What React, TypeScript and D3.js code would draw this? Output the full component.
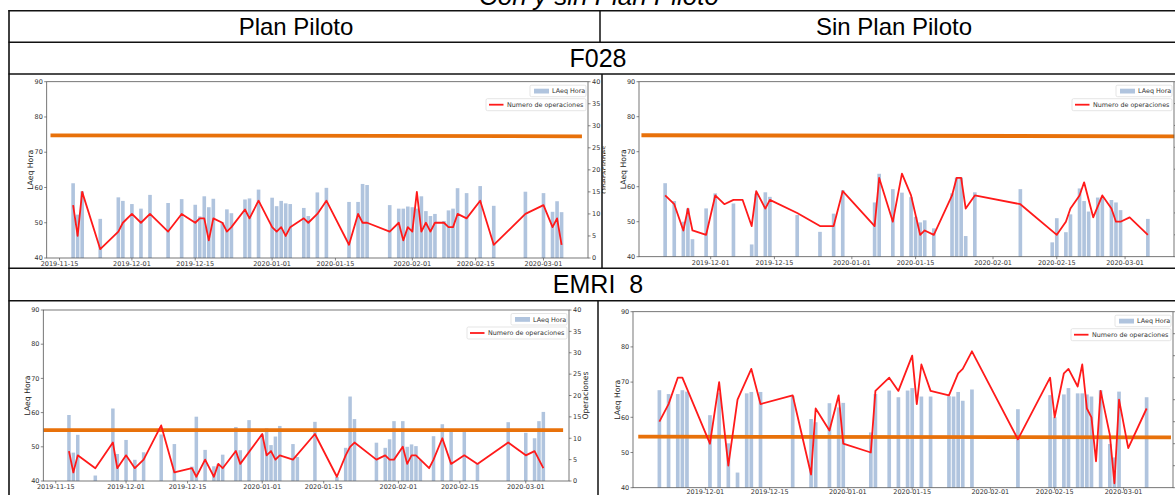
import React from "react";
import * as d3 from "d3";

// ---------- data ----------
const ORIGIN = Date.UTC(2019, 10, 15); // day 0 = 2019-11-15
const DAY_MS = 86400000;
const toDate = (d: number) => new Date(ORIGIN + d * DAY_MS);

const xTickLabels = ["2019-11-15", "2019-12-01", "2019-12-15", "2020-01-01", "2020-01-15", "2020-02-01", "2020-02-15", "2020-03-01"];
const leftTicks = [40, 50, 60, 70, 80, 90];
const rightTicks = [0, 5, 10, 15, 20, 25, 30, 35, 40];

// F028 - Plan Piloto
const f028PlanDays = [3, 4, 5, 9, 13, 14, 16, 18, 20, 24, 27, 30, 31, 32, 33, 34, 36, 37, 38, 41, 42, 44, 47, 48, 49, 50, 51, 54, 55, 57, 59, 64, 66, 67, 68, 73, 75, 76, 77, 78, 79, 80, 81, 82, 83, 85, 86, 87, 88, 90, 93, 96, 103, 107, 109, 110, 111];
const f028PlanLaeq = [61.2, 52.3, 58.9, 51.1, 57.2, 56.2, 55.3, 54.0, 57.9, 55.6, 56.7, 55.1, 51.8, 57.5, 54.4, 56.8, 50.1, 53.8, 52.7, 56.6, 56.9, 59.4, 57.1, 54.7, 56.2, 55.5, 55.3, 54.2, 51.9, 58.6, 59.9, 55.9, 55.9, 61.0, 60.7, 55.0, 54.0, 54.0, 54.6, 54.4, 54.0, 57.5, 53.3, 51.9, 52.5, 50.5, 53.5, 54.0, 59.8, 58.4, 60.4, 54.8, 58.8, 58.4, 53.1, 56.1, 53.0];
const f028PlanOpsDays = f028PlanDays;
const f028PlanOps = [12, 5, 15, 2, 6, 8, 10, 8, 10, 6, 10, 8, 9, 9, 4, 9, 8, 6, 7, 11, 9, 13, 7, 6, 7, 5, 7, 9, 8, 10, 13, 3, 10, 8, 8, 6, 8, 4, 7, 6, 15, 6, 8, 6, 8, 8, 7, 7, 10, 9, 13, 3, 10, 12, 7, 9, 3];
const f028PlanLimit = [74.8, 74.5];
const f028PlanLimitDays = [-2.0, 115.5];

// F028 - Sin Plan Piloto
const f028SinDays = [6, 8, 10, 11, 12, 15, 17, 21, 25, 26, 28, 29, 35, 40, 43, 45, 52, 53, 56, 58, 60, 61, 62, 63, 65, 69, 70, 71, 72, 74, 84, 91, 92, 94, 95, 97, 98, 99, 101, 102, 104, 105, 106, 112];
const f028SinLaeq = [61.0, 55.9, 50.0, 53.8, 45.0, 53.8, 58.1, 55.2, 43.5, 58.0, 58.4, 57.1, 51.9, 47.1, 52.3, 59.0, 55.5, 63.7, 59.3, 58.3, 57.0, 51.4, 49.8, 50.4, 48.1, 58.1, 62.6, 62.6, 45.9, 58.4, 59.3, 44.1, 51.0, 47.0, 52.1, 59.5, 55.9, 52.9, 56.9, 56.9, 56.2, 55.5, 53.3, 50.8];
const f028SinOpsDays = [6, 8, 10, 11, 12, 15, 17, 19, 21, 23, 25, 26, 28, 29, 35, 40, 43, 45, 52, 53, 56, 58, 60, 62, 63, 65, 69, 70, 71, 72, 74, 84, 92, 94, 95, 97, 98, 100, 102, 104, 105, 106, 108, 112];
const f028SinOps = [14, 12, 6, 11, 6, 5, 14, 12, 13, 13, 7, 15, 11, 13, 10, 7, 7, 15, 7, 18, 8, 19, 14, 5, 6, 5, 14, 18, 18, 11, 14, 12, 5, 8, 11, 14, 17, 9, 14, 11, 8, 8, 9, 5];
const f028SinLimit = [74.7, 74.4];
const f028SinLimitDays = [0.8, 117.8];

// EMRI 8 - Plan Piloto
const emriPlanDays = [3, 4, 5, 9, 13, 14, 16, 18, 20, 24, 27, 31, 32, 34, 36, 37, 38, 41, 42, 44, 47, 48, 49, 50, 51, 54, 55, 59, 64, 66, 67, 68, 73, 75, 76, 77, 79, 80, 81, 82, 83, 86, 88, 90, 93, 96, 103, 107, 109, 110, 111];
const emriPlanLaeq = [59.3, 48.3, 53.5, 41.6, 61.2, 47.9, 52.0, 46.2, 48.4, 53.6, 50.8, 44.2, 58.8, 49.1, 44.3, 45.0, 47.7, 55.8, 49.0, 57.8, 53.6, 55.4, 50.5, 53.0, 56.1, 50.8, 47.0, 57.3, 41.2, 49.7, 64.7, 58.1, 51.2, 49.7, 52.2, 57.5, 57.5, 50.0, 50.7, 50.2, 46.2, 53.1, 56.6, 54.4, 54.7, 45.0, 57.2, 54.1, 52.5, 57.5, 60.2];
const emriPlanOpsDays = [3, 4, 5, 9, 13, 14, 16, 18, 20, 24, 27, 31, 32, 34, 36, 37, 38, 41, 42, 47, 48, 49, 50, 51, 54, 59, 64, 66, 67, 68, 73, 75, 76, 77, 79, 80, 81, 82, 83, 85, 86, 88, 90, 93, 96, 103, 107, 109, 111];
const emriPlanOps = [7, 2, 6, 3, 9, 3, 6, 3, 5, 13, 2, 3, 1, 5, 1, 4, 3, 7, 4, 11, 6, 7, 5, 6, 5, 11, 1, 6, 8, 9, 5, 6, 5, 5, 8, 4, 6, 6, 5, 3, 5, 10, 4, 6, 4, 9, 6, 7, 3];
const emriPlanLimit = [54.9, 54.9];
const emriPlanLimitDays = [-2.8, 115.5];

// EMRI 8 - Sin Plan Piloto
const emriSinDays = [6, 8, 10, 11, 12, 17, 19, 21, 23, 25, 26, 28, 35, 39, 40, 43, 45, 46, 52, 53, 56, 58, 60, 61, 63, 65, 69, 70, 71, 72, 74, 84, 91, 92, 94, 95, 97, 98, 99, 100, 102, 104, 105, 106, 112];
const emriSinLaeq = [67.7, 66.6, 66.6, 67.7, 67.3, 60.6, 67.0, 52.6, 44.3, 66.8, 67.2, 67.2, 66.0, 59.5, 58.6, 64.0, 62.8, 64.1, 55.7, 66.6, 67.6, 65.7, 67.6, 68.3, 65.9, 65.9, 66.0, 65.9, 67.2, 64.7, 67.9, 62.3, 66.3, 60.0, 66.5, 68.3, 66.8, 66.8, 66.5, 65.9, 67.7, 52.4, 48.6, 67.3, 65.7];
const emriSinOpsDays = [6, 8, 10, 11, 17, 19, 21, 23, 26, 28, 35, 39, 40, 43, 45, 46, 52, 53, 56, 58, 61, 62, 63, 65, 69, 71, 72, 74, 84, 91, 92, 94, 95, 97, 98, 99, 100, 101, 102, 104, 105, 106, 108, 112];
const emriSinOps = [15, 19, 25, 25, 10, 24, 5, 20, 27, 19, 21, 3, 18, 13, 21, 10, 8, 22, 25, 22, 30, 19, 28, 22, 21, 26, 27, 31, 11, 25, 16, 26, 27, 23, 28, 18, 16, 6, 22, 12, 1, 20, 9, 18];
const emriSinLimit = [54.5, 54.3];
const emriSinLimitDays = [1.4, 117.3];

// ---------- layout ----------
const VIEW_W = 1175;
const VIEW_H = 495;

type PanelDef = {
  id: string;
  left: number; right: number; top: number; bottom: number;
  barDays: number[]; barVals: number[];
  lineDays: number[]; lineVals: number[];
  limit: number[]; limitDays: number[];
  labelClip?: [number, number];
};

const panels: PanelDef[] = [
  { id: "a", left: 46.7, right: 588, top: 81.7, bottom: 258, barDays: f028PlanDays, barVals: f028PlanLaeq, lineDays: f028PlanOpsDays, lineVals: f028PlanOps, limit: f028PlanLimit, limitDays: f028PlanLimitDays, labelClip: [602, 605.5] },
  { id: "b", left: 639, right: 1174, top: 81.7, bottom: 256.7, barDays: f028SinDays, barVals: f028SinLaeq, lineDays: f028SinOpsDays, lineVals: f028SinOps, limit: f028SinLimit, limitDays: f028SinLimitDays },
  { id: "c", left: 43.3, right: 569, top: 310, bottom: 481, barDays: emriPlanDays, barVals: emriPlanLaeq, lineDays: emriPlanOpsDays, lineVals: emriPlanOps, limit: emriPlanLimit, limitDays: emriPlanLimitDays },
  { id: "d", left: 633, right: 1173, top: 311.7, bottom: 487.7, barDays: emriSinDays, barVals: emriSinLaeq, lineDays: emriSinOpsDays, lineVals: emriSinOps, limit: emriSinLimit, limitDays: emriSinLimitDays },
];

const BAR = "#b0c4de";
const RED = "#ff1a1a";
const ORANGE = "#e8710a";
const AX = "#555";
const TXT = "#333";
const MPL = "'DejaVu Sans', sans-serif";
const parse = d3.utcParse("%Y-%m-%d");

function Panel({ p }: { p: PanelDef }) {
  const lo = (d3.min(p.barDays) as number) - 0.4;
  const hi = (d3.max(p.barDays) as number) + 0.4;
  const m = (hi - lo) * 0.05;
  const x = d3.scaleUtc().domain([toDate(lo - m), toDate(hi + m)]).range([p.left, p.right]);
  const yL = d3.scaleLinear().domain([40, 90]).range([p.bottom, p.top]);
  const yR = d3.scaleLinear().domain([0, 40]).range([p.bottom, p.top]);
  const pts: [number, number][] = p.lineDays.map((d, i) => [d, p.lineVals[i]]);
  const line = d3.line<[number, number]>().x((d) => x(toDate(d[0]))).y((d) => yR(d[1]));
  const ticks = xTickLabels
    .map((s) => ({ s, t: parse(s) as Date }))
    .filter((o) => x(o.t) >= p.left - 0.5 && x(o.t) <= p.right + 0.5);
  const midY = (p.top + p.bottom) / 2;
  const b1x = p.right - 58, b1y = p.top + 3.5;
  const b2x = p.right - 102, b2y = p.top + 17;
  const clipId = "clip-" + p.id;
  const rightLabelsVisible = p.right + 14 < VIEW_W;
  const xLabelY = Math.min(p.bottom + 8.2, VIEW_H - 1.2);
  return (
    <g>
      {/* bars */}
      {p.barDays.map((d, i) => {
        const x0 = x(toDate(d - 0.4));
        const x1 = x(toDate(d + 0.4));
        return <rect key={"b" + i} x={x0} y={yL(p.barVals[i])} width={x1 - x0} height={p.bottom - yL(p.barVals[i])} fill={BAR} />;
      })}
      {/* limit line */}
      <line x1={x(toDate(p.limitDays[0]))} x2={x(toDate(p.limitDays[1]))} y1={yL(p.limit[0])} y2={yL(p.limit[1])} stroke={ORANGE} strokeWidth={3.8} />
      {/* operations line */}
      <path d={line(pts) || ""} fill="none" stroke={RED} strokeWidth={1.8} strokeLinejoin="round" />
      {/* spines */}
      <rect x={p.left} y={p.top} width={p.right - p.left} height={p.bottom - p.top} fill="none" stroke={AX} strokeWidth={0.8} />
      {/* left ticks */}
      {leftTicks.map((v) => (
        <g key={"l" + v}>
          <line x1={p.left - 2.5} x2={p.left} y1={yL(v)} y2={yL(v)} stroke={AX} strokeWidth={0.7} />
          <text x={p.left - 3.8} y={yL(v)} dy="0.35em" textAnchor="end" fontSize={6.5} fontFamily={MPL} fill={TXT}>{v}</text>
        </g>
      ))}
      {/* right ticks */}
      {rightTicks.map((v) => (
        <g key={"r" + v}>
          <line x1={p.right} x2={p.right + 2.5} y1={yR(v)} y2={yR(v)} stroke={AX} strokeWidth={0.7} />
          {rightLabelsVisible && (
            <text x={p.right + 4} y={yR(v)} dy="0.35em" textAnchor="start" fontSize={6.5} fontFamily={MPL} fill={TXT}>{v}</text>
          )}
        </g>
      ))}
      {/* x ticks */}
      {ticks.map((o) => (
        <g key={o.s}>
          <line x1={x(o.t)} x2={x(o.t)} y1={p.bottom} y2={p.bottom + 2.5} stroke={AX} strokeWidth={0.7} />
          <text x={x(o.t)} y={xLabelY} textAnchor="middle" fontSize={6.5} fontFamily={MPL} fill={TXT}>{o.s}</text>
        </g>
      ))}
      {/* axis labels */}
      <text transform={`translate(${p.left - 16},${midY}) rotate(-90)`} textAnchor="middle" dy="0.35em" fontSize={7.7} fontFamily={MPL} fill="#222">LAeq Hora</text>
      {p.labelClip && (
        <clipPath id={clipId}>
          <rect x={p.labelClip[0]} y={p.top} width={p.labelClip[1] - p.labelClip[0]} height={p.bottom - p.top} />
        </clipPath>
      )}
      {rightLabelsVisible && (
        <g clipPath={p.labelClip ? `url(#${clipId})` : undefined}>
          <text transform={`translate(${p.right + 16},${midY}) rotate(-90)`} textAnchor="middle" dy="0.35em" fontSize={7.7} fontFamily={MPL} fill="#222">Operaciones</text>
        </g>
      )}
      {/* legends */}
      <rect x={b1x} y={b1y} width={56} height={11.5} rx={1.5} fill="white" fillOpacity={0.85} stroke="#d4d4d4" strokeWidth={0.6} />
      <rect x={b1x + 4} y={b1y + 3.5} width={15} height={4.8} fill={BAR} />
      <text x={b1x + 22} y={b1y + 5.9} dy="0.35em" fontSize={6.4} fontFamily={MPL} fill={TXT}>LAeq Hora</text>
      <rect x={b2x} y={b2y} width={100} height={12} rx={1.5} fill="white" fillOpacity={0.85} stroke="#d4d4d4" strokeWidth={0.6} />
      <line x1={b2x + 3} x2={b2x + 17.5} y1={b2y + 6} y2={b2y + 6} stroke={RED} strokeWidth={1.8} />
      <text x={b2x + 21} y={b2y + 6} dy="0.35em" fontSize={6.4} fontFamily={MPL} fill={TXT}>Numero de operaciones</text>
    </g>
  );
}

const SANS = "'Liberation Sans', Arial, sans-serif";
const rowLines = [10.7, 42.3, 74, 268.3, 300.7];

export default function App() {
  return (
    <div style={{ position: "absolute", left: 0, top: 0 }}>
      <svg width={VIEW_W} height={VIEW_H} style={{ display: "block", background: "white" }}>
        <rect x={0} y={0} width={VIEW_W} height={VIEW_H} fill="white" />
        {panels.map((p) => <Panel key={p.id} p={p} />)}
        {/* table */}
        <text x={599} y={5} textAnchor="middle" fontSize={26} fontStyle="italic" fontFamily={SANS} fill="#000">Con y sin Plan Piloto</text>
        {rowLines.map((y) => (
          <line key={y} x1={8.5} x2={VIEW_W} y1={y} y2={y} stroke="#111" strokeWidth={1.6} />
        ))}
        <line x1={9} x2={9} y1={10} y2={VIEW_H} stroke="#111" strokeWidth={1.6} />
        <line x1={600} x2={600} y1={10.7} y2={42.3} stroke="#111" strokeWidth={1.5} />
        <line x1={602} x2={602} y1={74} y2={268.3} stroke="#111" strokeWidth={1.5} />
        <line x1={598} x2={598} y1={300.7} y2={VIEW_H} stroke="#111" strokeWidth={1.5} />
        <text x={296} y={34.8} textAnchor="middle" fontSize={24} fontFamily={SANS} fill="#000">Plan Piloto</text>
        <text x={894} y={34.8} textAnchor="middle" fontSize={24} fontFamily={SANS} fill="#000">Sin Plan Piloto</text>
        <text x={598} y={66.8} textAnchor="middle" fontSize={25} fontFamily={SANS} fill="#000">F028</text>
        <text x={598} y={293.2} textAnchor="middle" fontSize={25} fontFamily={SANS} fill="#000" style={{ whiteSpace: "pre" }}>{"EMRI  8"}</text>
      </svg>
    </div>
  );
}
